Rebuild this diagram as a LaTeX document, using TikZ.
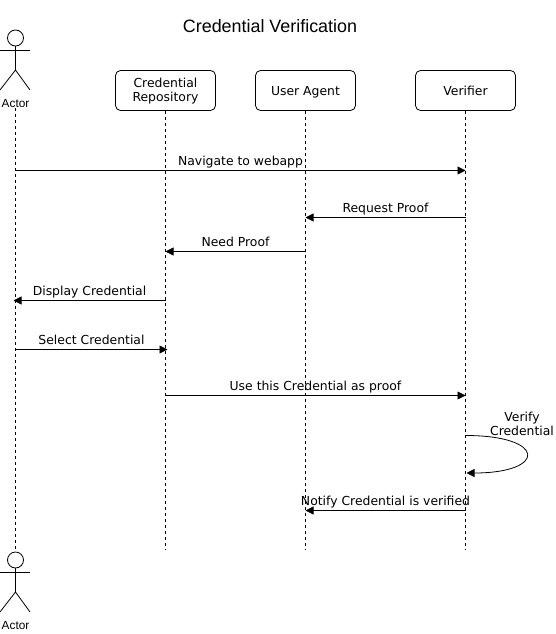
\documentclass[tikz,border=0pt]{standalone}
\usepackage{fontspec}
\setmainfont{DejaVu Sans}
\newfontfamily\titlefont{Liberation Sans}
\usetikzlibrary{positioning,arrows.meta,calc}
\tikzset{
  box/.style={draw=black, fill=white, rounded corners=5pt, align=center,
    minimum width=100pt, minimum height=40pt, inner sep=0pt, font=\fontsize{12.4}{14}\selectfont,
    line width=0.8pt},
  stick/.style={line width=0.8pt, draw=black},
  lifeline/.style={line width=0.8pt, draw=black, dash pattern=on 3pt off 3pt},
  flow/.style={-{Triangle[length=8pt,width=8pt]}, line width=0.8pt, draw=black},
  msg/.style={font=\fontsize{12.4}{14}\selectfont, inner sep=0pt, anchor=base, yshift=5pt},
  actorlabel/.style={font=\titlefont\fontsize{11.8}{13}\selectfont, inner sep=0pt},
}
\begin{document}
\begin{tikzpicture}[x=1pt,y=-1pt]
  \useasboundingbox (0,0) rectangle (556,634);
  \node[font=\titlefont\fontsize{17.9}{20}\selectfont, inner sep=0pt] (title) at (270,26) {Credential Verification};
  % actors
  \node[circle, stick, minimum size=16pt, inner sep=0pt] (headtop) at (15.5,38) {};
  \node[actorlabel] (actortop) at (15.5,103.5) {Actor};
  \coordinate (hiptop) at (15.5,70);
  \draw[stick] (headtop.south) -- (hiptop);
  \draw[stick] (0,50.5) -- (30,50.5);
  \draw[stick] (0,90) -- (hiptop) -- (30,90);
  \node[circle, stick, minimum size=16pt, inner sep=0pt] (headbot) at (15.5,560) {};
  \node[actorlabel] (actorbot) at (15.5,625.5) {Actor};
  \coordinate (hipbot) at (15.5,592);
  \draw[stick] (headbot.south) -- (hipbot);
  \draw[stick] (0,572.5) -- (30,572.5);
  \draw[stick] (0,612) -- (hipbot) -- (30,612);
  % participants
  \node[box, text depth=1pt] (repo) at (165.5,90.5) {Credential\\Repository};
  \node[box, text depth=0pt] (agent) at (305.5,90.5) {User Agent};
  \node[box] (verifier) at (465.5,90.5) {Verifier};
  \coordinate (repoend) at (165.5,550);
  \coordinate (agentend) at (305.5,550);
  \coordinate (verifierend) at (465.5,550);
  \draw[lifeline] (actortop.south) -- (headbot.north);
  \draw[lifeline] (repo) -- (repoend);
  \draw[lifeline] (agent) -- (agentend);
  \draw[lifeline] (verifier) -- (verifierend);
  % messages
  \coordinate (navstart) at (15.5,170.5);
  \coordinate (navend) at (465.5,170.5);
  \coordinate (reqstart) at (465.5,217.5);
  \coordinate (reqend) at (305.5,217.5);
  \coordinate (needstart) at (305.5,251.5);
  \coordinate (needend) at (165.5,251.5);
  \coordinate (dispstart) at (165.5,300.5);
  \coordinate (dispend) at (13.5,300.5);
  \coordinate (selstart) at (15.5,349.5);
  \coordinate (selend) at (167.5,349.5);
  \coordinate (usestart) at (165.5,395.5);
  \coordinate (useend) at (465.5,395.5);
  \coordinate (loopstart) at (465.5,435.5);
  \coordinate (loopend) at (466.5,473);
  \coordinate (notstart) at (465.5,510.5);
  \coordinate (notend) at (305.5,510.5);
  \draw[flow] (navstart) -- node[msg] (navlabel) {Navigate to webapp} (navend);
  \draw[flow] (reqstart) -- node[msg] (reqlabel) {Request Proof} (reqend);
  \draw[flow] (needstart) -- node[msg] (needlabel) {Need Proof} (needend);
  \draw[flow] (dispstart) -- node[msg] (displabel) {Display Credential} (dispend);
  \draw[flow] (selstart) -- node[msg] (sellabel) {Select Credential} (selend);
  \draw[flow] (usestart) -- node[msg] (uselabel) {Use this Credential as proof} (useend);
  \draw[flow] (loopstart) .. controls (547,435.5) and (547,473) .. (loopend);
  \node[font=\fontsize{12.4}{14}\selectfont, align=center, inner sep=0pt] (looplabel) at (522,423.5) {Verify\\Credential};
  \draw[flow] (notstart) -- node[msg] (notlabel) {Notify Credential is verified} (notend);
\end{tikzpicture}
\end{document}
